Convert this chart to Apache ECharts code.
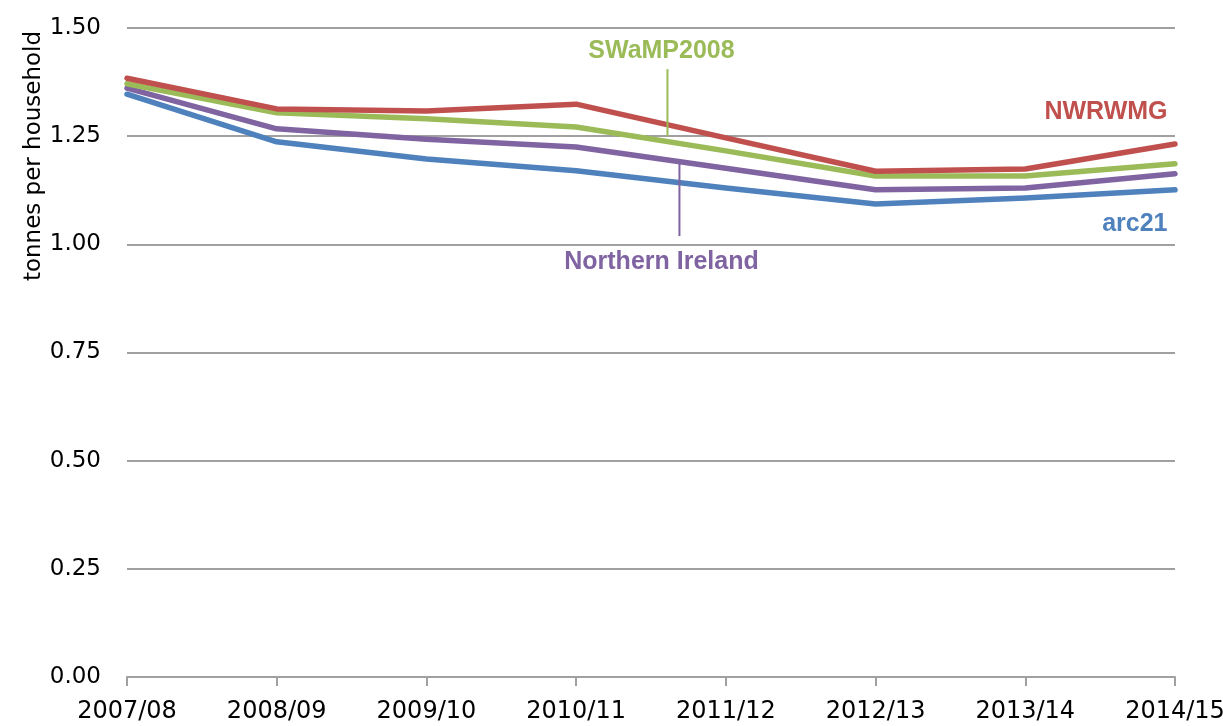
<!DOCTYPE html>
<html>
<head>
<meta charset="utf-8">
<script src="https://cdn.jsdelivr.net/npm/echarts@6/dist/echarts.min.js"></script>
<style>
html,body{margin:0;padding:0;background:#fff;}
#chart{width:1223px;height:726px;}
</style>
</head>
<body>
<div id="chart"></div>
<script>
var categories = ['2007/08','2008/09','2009/10','2010/11','2011/12','2012/13','2013/14','2014/15'];
var nwrwmg   = [1.384, 1.313, 1.308, 1.324, 1.246, 1.169, 1.174, 1.232];
var swamp    = [1.371, 1.304, 1.290, 1.271, 1.216, 1.158, 1.158, 1.186];
var ni       = [1.361, 1.267, 1.243, 1.225, 1.176, 1.126, 1.130, 1.163];
var arc21    = [1.347, 1.237, 1.197, 1.170, 1.130, 1.093, 1.107, 1.126];
var yTicks   = [0, 0.25, 0.5, 0.75, 1.0, 1.25, 1.5];
var axisTitle = 'tonnes per household';

var FONT = 'DejaVu Sans';
var LFONT = 'Liberation Sans';
var colors = {nwrwmg:'#C0504D', swamp:'#9BBB59', ni:'#8064A2', arc21:'#4F81BD'};

var chart = echarts.init(document.getElementById('chart'), null, {renderer:'canvas'});

function mkSeries(name, data, color){
  return {
    name: name, type: 'line', data: data, symbol: 'none',
    lineStyle: {color: color, width: 5.5, cap: 'round', join: 'round'},
    itemStyle: {color: color}, z: 3, animation: false
  };
}

var option = {
  animation: false,
  backgroundColor: '#ffffff',
  grid: {left: 127, right: 48, top: 28, bottom: 49, containLabel: false, outerBoundsMode: 'none'},
  xAxis: {
    type: 'category', data: categories, boundaryGap: false,
    axisLine: {lineStyle: {color: '#A0A0A0', width: 2}},
    axisTick: {show: true, length: 9, lineStyle: {color: '#A0A0A0', width: 2}},
    axisLabel: {fontFamily: FONT, fontSize: 24, color: '#000', margin: 23, interval: 0, hideOverlap: false}
  },
  yAxis: {
    type: 'value', min: yTicks[0], max: yTicks[yTicks.length-1], interval: 0.25,
    axisLine: {show: false}, axisTick: {show: false},
    splitLine: {lineStyle: {color: '#A0A0A0', width: 2}},
    axisLabel: {fontFamily: FONT, fontSize: 23, color: '#000', margin: 26,
      formatter: function(v){ return v.toFixed(2); }}
  },
  series: [
    mkSeries('arc21', arc21, colors.arc21),
    mkSeries('Northern Ireland', ni, colors.ni),
    mkSeries('SWaMP2008', swamp, colors.swamp),
    mkSeries('NWRWMG', nwrwmg, colors.nwrwmg)
  ]
};
chart.setOption(option);

function px(idx, val){
  var i0 = Math.floor(idx), f = idx - i0;
  var p0 = chart.convertToPixel({gridIndex:0}, [i0, val]);
  var x = p0[0];
  if (f > 0) {
    var p1 = chart.convertToPixel({gridIndex:0}, [i0+1, val]);
    x = p0[0] + (p1[0]-p0[0])*f;
  }
  return [x, p0[1]];
}

var gTop = px(3.61, 1.405), gBot = px(3.61, 1.250);
var pTop = px(3.69, 1.188), pBot = px(3.69, 1.019);
var swLab = px(3.57, 1.447);
var niLab = px(3.57, 0.960);
var nwLab = px(6.95, 1.306);
var arLab = px(6.95, 1.046);
var lf = 'bold 25px "'+LFONT+'"';

chart.setOption({
  graphic: [
    {type:'line', shape:{x1:gTop[0], y1:gTop[1], x2:gBot[0], y2:gBot[1]}, style:{stroke:colors.swamp, lineWidth:2}, z:10},
    {type:'line', shape:{x1:pTop[0], y1:pTop[1], x2:pBot[0], y2:pBot[1]}, style:{stroke:colors.ni, lineWidth:2}, z:10},
    {type:'text', x: swLab[0], y: swLab[1], z:10,
      style:{text:'SWaMP2008', fill:colors.swamp, font:lf, textAlign:'center', textVerticalAlign:'middle'}},
    {type:'text', x: niLab[0], y: niLab[1], z:10,
      style:{text:'Northern Ireland', fill:colors.ni, font:lf, textAlign:'center', textVerticalAlign:'middle'}},
    {type:'text', x: nwLab[0], y: nwLab[1], z:10,
      style:{text:'NWRWMG', fill:colors.nwrwmg, font:lf, textAlign:'right', textVerticalAlign:'middle'}},
    {type:'text', x: arLab[0], y: arLab[1], z:10,
      style:{text:'arc21', fill:colors.arc21, font:lf, textAlign:'right', textVerticalAlign:'middle'}},
    {type:'text', x: 34, y: 156, rotation: Math.PI/2, z:10,
      style:{text:axisTitle, fill:'#000', font:'23px "'+FONT+'"', textAlign:'center', textVerticalAlign:'middle'}}
  ]
});
</script>
</body>
</html>
